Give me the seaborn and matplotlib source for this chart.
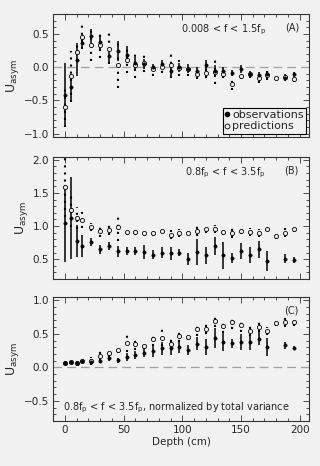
import numpy as np
import pandas as pd
import matplotlib
matplotlib.use("Agg")
import matplotlib.pyplot as plt
from matplotlib.lines import Line2D
import seaborn as sns

depth = [0, 5, 10, 15, 22.5, 30, 37.5, 45, 52.5, 60, 67.5, 75, 82.5, 90, 97.5,
         105, 112.5, 120, 127.5, 135, 142.5, 150, 157.5, 165, 172.5, 180, 187.5, 195]

# Panel A
a_obs = [-0.42, -0.30, 0.11, 0.36, 0.47, 0.38, 0.17, 0.25, 0.19, 0.06, 0.05, 0.00, 0.05, -0.06,
         0.00, -0.02, -0.05, 0.03, -0.05, -0.05, -0.09, -0.03, -0.11, -0.12, -0.11, np.nan, -0.16, -0.11]
a_obs_err = [0.48, 0.20, 0.25, 0.06, 0.10, 0.10, 0.12, 0.15, 0.13, 0.10, 0.08, 0.05, 0.06, 0.08,
             0.07, 0.07, 0.05, 0.08, 0.08, 0.05, 0.05, 0.06, 0.05, 0.05, 0.06, np.nan, 0.05, 0.04]
a_pred = [-0.60, -0.14, 0.23, 0.45, 0.34, 0.34, 0.28, 0.04, 0.11, 0.04, 0.07, -0.03, 0.01, 0.03,
          -0.01, -0.03, -0.10, -0.09, -0.07, -0.11, -0.25, -0.14, -0.11, -0.17, -0.12, -0.16, -0.15, -0.18]
a_pred_err = [0.30, 0.38, 0.15, 0.18, 0.24, 0.20, 0.23, 0.35, 0.20, 0.20, 0.14, 0.10, 0.10, 0.20,
              0.12, 0.10, 0.08, 0.08, 0.18, 0.05, 0.10, 0.04, 0.05, 0.07, 0.07, 0.03, 0.05, 0.04]

# Panel B
b_obs = [1.04, 1.12, 0.78, 0.70, 0.76, 0.65, 0.70, 0.62, 0.62, 0.63, 0.61, 0.57, 0.60, 0.59,
         0.60, 0.51, 0.61, 0.56, 0.70, 0.56, 0.52, 0.62, 0.57, 0.65, 0.47, np.nan, 0.51, 0.49]
b_obs_err = [0.58, 0.62, 0.24, 0.17, 0.06, 0.07, 0.06, 0.08, 0.06, 0.06, 0.10, 0.07, 0.08, 0.10,
             0.05, 0.09, 0.20, 0.13, 0.13, 0.20, 0.08, 0.12, 0.12, 0.13, 0.15, np.nan, 0.07, 0.05]
b_pred = [1.59, 1.24, 1.12, 1.09, 0.99, 0.93, 0.94, 0.98, 0.91, 0.91, 0.90, 0.89, 0.93, 0.87,
          0.90, 0.90, 0.93, 0.95, 0.95, 0.91, 0.90, 0.93, 0.91, 0.89, 0.95, 0.85, 0.90, 0.95]
b_pred_err = [0.45, 0.25, 0.17, 0.12, 0.06, 0.10, 0.07, 0.20, 0.04, 0.04, 0.04, 0.04, 0.03, 0.07,
              0.06, 0.02, 0.08, 0.05, 0.06, 0.05, 0.08, 0.05, 0.06, 0.06, 0.03, 0.05, 0.07, 0.04]

# Panel C
c_obs = [0.06, 0.08, 0.07, 0.09, 0.08, 0.10, 0.145, 0.105, 0.155, 0.18, 0.22, 0.245, 0.285, 0.285,
         0.30, 0.26, 0.355, 0.31, 0.445, 0.38, 0.36, 0.385, 0.38, 0.43, 0.305, np.nan, 0.33, 0.295]
c_obs_err = [0.03, 0.02, 0.02, 0.02, 0.05, 0.04, 0.05, 0.04, 0.06, 0.06, 0.07, 0.09, 0.10, 0.10,
             0.09, 0.07, 0.10, 0.12, 0.15, 0.14, 0.07, 0.12, 0.12, 0.10, 0.13, np.nan, 0.05, 0.02]
c_pred = [0.07, 0.08, 0.07, 0.09, 0.09, 0.17, 0.21, 0.26, 0.36, 0.345, 0.32, 0.42, 0.445, 0.355,
          0.47, 0.455, 0.57, 0.57, 0.685, 0.62, 0.67, 0.635, 0.545, 0.605, 0.545, 0.665, 0.67, 0.67]
c_pred_err = [0.02, 0.02, 0.02, 0.02, 0.06, 0.07, 0.05, 0.05, 0.13, 0.08, 0.05, 0.10, 0.13, 0.08,
              0.09, 0.05, 0.10, 0.07, 0.08, 0.10, 0.10, 0.10, 0.08, 0.08, 0.06, 0.04, 0.07, 0.05]

panel_labels = ["(A)", "(B)", "(C)"]
panel_texts = [r"0.008 < f < 1.5f$_{\rm p}$", r"0.8f$_{\rm p}$ < f < 3.5f$_{\rm p}$",
               r"0.8f$_{\rm p}$ < f < 3.5f$_{\rm p}$, normalized by total variance"]
ylims = [(-1.05, 0.8), (0.2, 2.04), (-0.8, 1.05)]
yticks = [[-1.0, -0.5, 0.0, 0.5], [0.5, 1.0, 1.5, 2.0], [-0.5, 0.0, 0.5, 1.0]]
xticks = [0, 50, 100, 150, 200]

sns.set_style("ticks")
plt.rcParams['font.family'] = ['DejaVu Sans']
bg = "#f1f1f1"
fig = plt.figure(figsize=(3.2, 4.66), dpi=100, facecolor=bg)

rects = [(0.166, 0.706, 0.800, 0.264),
         (0.166, 0.401, 0.800, 0.262),
         (0.166, 0.0966, 0.800, 0.266)]

data = [(a_obs, a_obs_err, a_pred, a_pred_err),
        (b_obs, b_obs_err, b_pred, b_pred_err),
        (c_obs, c_obs_err, c_pred, c_pred_err)]

for i, (rect, (obs, oerr, pred, perr)) in enumerate(zip(rects, data)):
    ax = fig.add_axes(rect)
    ax.set_facecolor(bg)
    df = pd.DataFrame({"depth": depth, "obs": obs, "oerr": oerr, "pred": pred, "perr": perr})
    if i != 1:
        ax.axhline(0, color="#a0a0a0", lw=0.9, ls=(0, (7, 4)), zorder=1)
    # predictions: dotted error bars
    ax.vlines(df["depth"], df["pred"] - df["perr"], df["pred"] + df["perr"],
              colors="black", linestyles=(0, (1, 2.4)), lw=1.5, zorder=2)
    # observations: solid error bars
    ax.vlines(df["depth"], df["obs"] - df["oerr"], df["obs"] + df["oerr"],
              colors="black", lw=1.1, zorder=3)
    sns.scatterplot(data=df, x="depth", y="pred", ax=ax, marker="o", s=9,
                    facecolor=bg, edgecolor="black", linewidth=0.6, zorder=4)
    sns.scatterplot(data=df, x="depth", y="obs", ax=ax, marker="o", s=6,
                    color="black", edgecolor="black", linewidth=0.3, zorder=5)
    ax.set_xlim(-10, 208)
    ax.set_ylim(*ylims[i])
    ax.set_yticks(yticks[i])
    ax.set_yticklabels([f"{v:.1f}".replace("-", "\u2212") for v in yticks[i]], fontsize=7.5)
    ax.set_xticks(xticks)
    if i == 2:
        ax.set_xticklabels([str(v) for v in xticks], fontsize=7.5)
        ax.set_xlabel("Depth (cm)", fontsize=7.5, labelpad=1)
    else:
        ax.set_xticklabels([])
        ax.set_xlabel("")
    ax.set_ylabel(r"U$_{\rm asym}$", fontsize=9, labelpad=2)
    ax.minorticks_on()
    ax.xaxis.set_minor_locator(matplotlib.ticker.MultipleLocator(10))
    ax.yaxis.set_minor_locator(matplotlib.ticker.MultipleLocator(0.1))
    ax.tick_params(which="both", direction="in", top=True, right=True, width=0.6, color="#333333")
    ax.tick_params(which="major", length=4, pad=3)
    ax.tick_params(which="minor", length=2)
    for sp in ax.spines.values():
        sp.set_linewidth(0.8)
        sp.set_color("#333333")
    ax.text(0.96, 0.93, panel_labels[i], transform=ax.transAxes, ha="right", va="top", fontsize=7)
    if i < 2:
        ax.text(0.83, 0.93, panel_texts[i], transform=ax.transAxes, ha="right", va="top", fontsize=7)
    else:
        ax.text(0.04, 0.05, panel_texts[i], transform=ax.transAxes, ha="left", va="bottom", fontsize=7)
    if i == 0:
        handles = [Line2D([], [], marker="o", ls="", color="black", markersize=3),
                   Line2D([], [], marker="o", ls="", markerfacecolor=bg, markeredgecolor="black",
                          markersize=3.5, markeredgewidth=0.6)]
        leg = ax.legend(handles, ["observations", "predictions"], loc="lower right",
                        fontsize=8, frameon=True, fancybox=False, framealpha=1,
                        handlelength=0.4, handletextpad=0.2, borderpad=0.2,
                        labelspacing=0.1, borderaxespad=0.3, edgecolor="black", facecolor=bg)
        leg.get_frame().set_linewidth(0.8)
    elif ax.get_legend():
        ax.get_legend().remove()

fig.savefig("out.png", dpi=100, facecolor=bg)
